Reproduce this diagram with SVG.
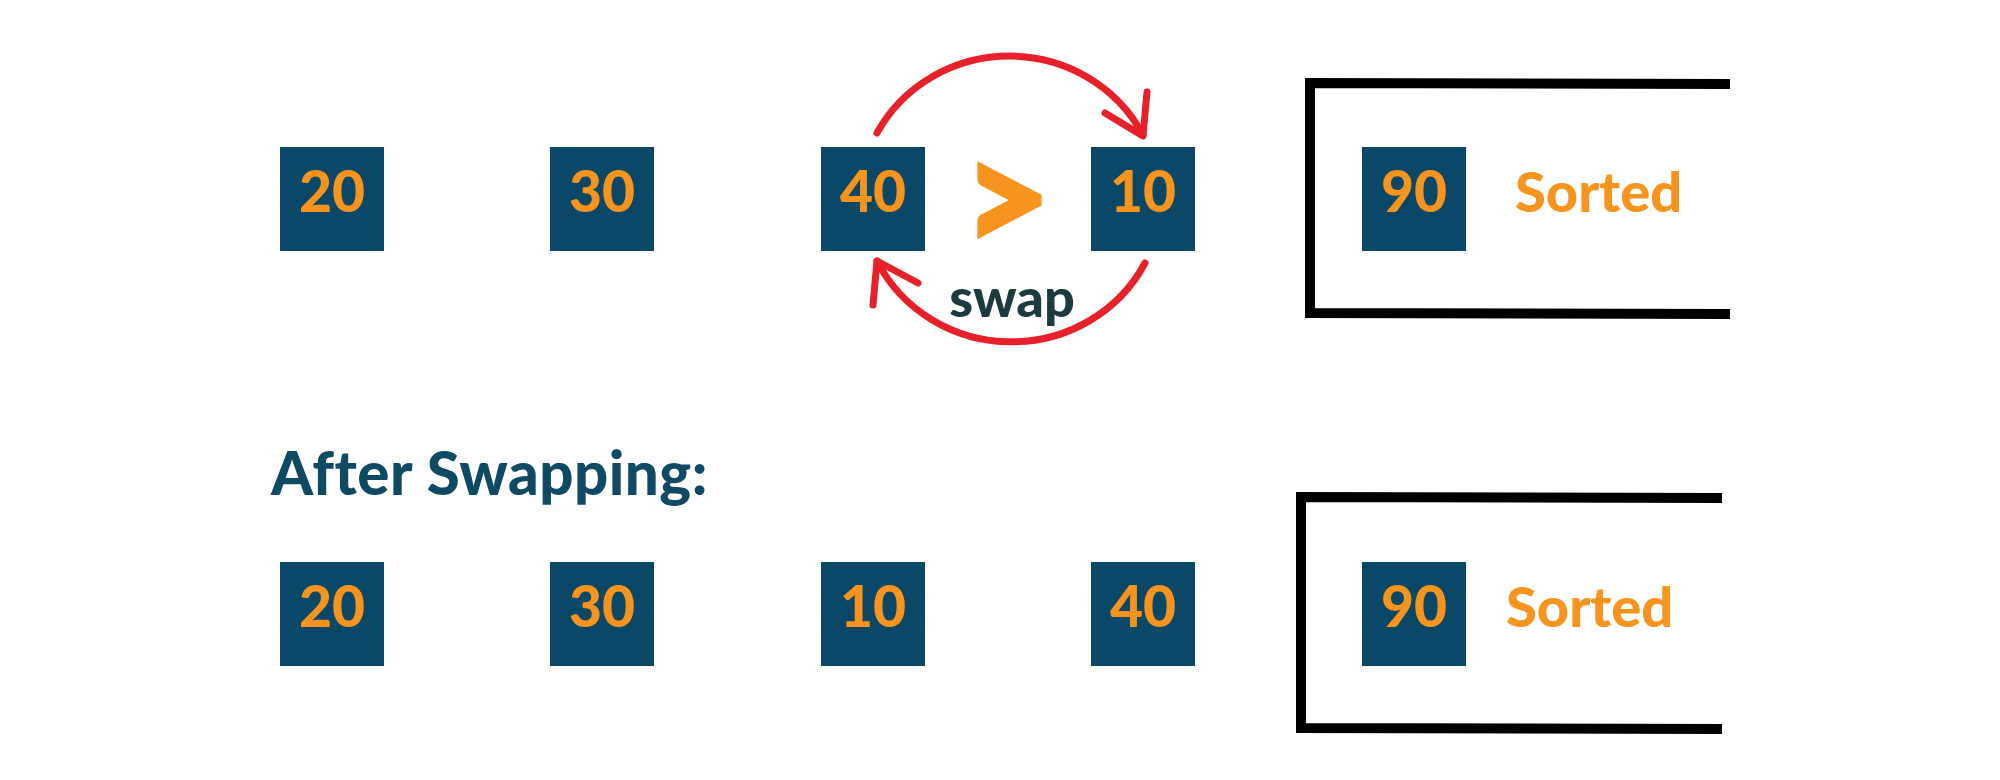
<svg xmlns="http://www.w3.org/2000/svg" width="2000" height="780" viewBox="0 0 2000 780">
<style>
.box{fill:#0b4766}
.num{font-family:Lato,"Open Sans",sans-serif;font-weight:900;font-size:57px;fill:#f7941d;text-anchor:middle}
.sorted{font-family:Lato,"Open Sans",sans-serif;font-weight:900;font-size:56px;fill:#f7941d}
.title{font-family:Lato,"Open Sans",sans-serif;font-weight:900;font-size:60px;letter-spacing:0.5px;fill:#0e4a63}
.swap{font-family:Lato,"Open Sans",sans-serif;font-weight:900;font-size:54px;fill:#1c3b40;text-anchor:middle}
.bracket{fill:none;stroke:#000;stroke-width:10}
.arc{fill:none;stroke:#e8202a;stroke-width:7;stroke-linecap:round;stroke-linejoin:round}
</style>
<rect width="2000" height="780" fill="#fff"/>
<g id="row1">
<g id="n20a"><rect class="box" x="280" y="147" width="104" height="104"/><text class="num" x="332" y="212">20</text></g>
<g id="n30a"><rect class="box" x="550" y="147" width="104" height="104"/><text class="num" x="602" y="212">30</text></g>
<g id="n40a"><rect class="box" x="821" y="147" width="104" height="104"/><text class="num" x="873" y="212">40</text></g>
<g id="n10a"><rect class="box" x="1091" y="147" width="104" height="104"/><text class="num" x="1143" y="212">10</text></g>
<g id="n90a"><rect class="box" x="1362" y="147" width="104" height="104"/><text class="num" x="1414" y="212">90</text></g>
<g id="gt"><text x="1007" y="251" font-family="Lato,'Open Sans',sans-serif" font-weight="900" font-size="150" fill="#f7941d" stroke="#f7941d" stroke-width="4" stroke-linejoin="miter" text-anchor="middle">&gt;</text></g>
<g id="sortedA"><polyline class="bracket" points="1730,84 1310,83 1310,313 1730,314"/><text class="sorted" x="1515" y="212">Sorted</text></g>
</g>
<g id="connectors">
<path class="arc" d="M877,133 A150,145 0 0 1 1143,135"/>
<polyline class="arc" points="1147,92 1143,136 1105,113"/>
<path class="arc" d="M1145,263 A150,145 0 0 1 877,261"/>
<polyline class="arc" points="873,305 877,261 918,283"/>
</g>
<g id="swaplabel"><text class="swap" x="1012" y="317">swap</text></g>
<g id="title"><text class="title" x="271" y="495">After Swapping:</text></g>
<g id="row2">
<g id="n20b"><rect class="box" x="280" y="562" width="104" height="104"/><text class="num" x="332" y="627">20</text></g>
<g id="n30b"><rect class="box" x="550" y="562" width="104" height="104"/><text class="num" x="602" y="627">30</text></g>
<g id="n10b"><rect class="box" x="821" y="562" width="104" height="104"/><text class="num" x="873" y="627">10</text></g>
<g id="n40b"><rect class="box" x="1091" y="562" width="104" height="104"/><text class="num" x="1143" y="627">40</text></g>
<g id="n90b"><rect class="box" x="1362" y="562" width="104" height="104"/><text class="num" x="1414" y="627">90</text></g>
<g id="sortedB"><polyline class="bracket" points="1722,498 1301,497 1301,728 1722,729"/><text class="sorted" x="1506" y="627">Sorted</text></g>
</g>
</svg>
